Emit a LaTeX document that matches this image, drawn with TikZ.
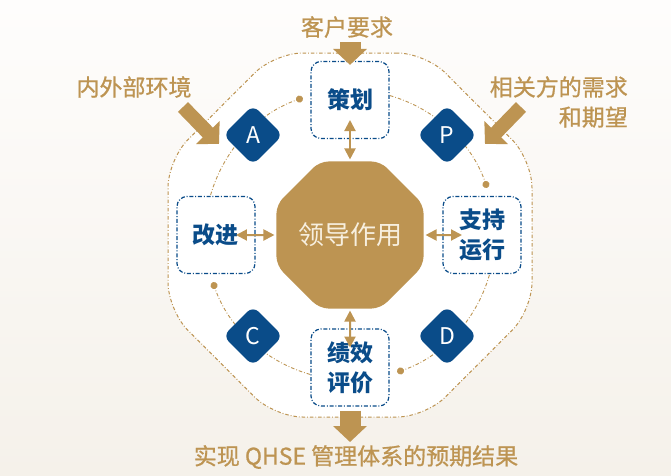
\documentclass[tikz,border=0pt]{standalone}
\usepackage{fontspec}
\setmainfont{Noto Sans CJK SC}
\newfontfamily\labelfont{Noto Sans CJK SC}[FakeBold=0.8]
\usetikzlibrary{shapes.geometric,arrows.meta}
\definecolor{gd}{HTML}{BD9452}
\definecolor{bl}{HTML}{0A4C89}
\definecolor{bgt}{HTML}{FEFDFC}
\definecolor{bgb}{HTML}{F5F1EA}
\definecolor{cr}{HTML}{F7EFDF}

\tikzset{
  lbl/.style={text=gd, font=\labelfont\fontsize{23pt}{30pt}\selectfont, inner sep=0pt},
  box/.style={draw=bl, fill=white, line width=1.2pt, dash pattern=on 4pt off 1.8pt on 1pt off 1.8pt,
    rounded corners=10pt, minimum width=78pt, minimum height=77pt, inner sep=0pt, align=center,
    text=bl, font=\fontsize{23pt}{30pt}\selectfont\bfseries},
  dia/.style={diamond, fill=bl, rounded corners=8pt, minimum width=60pt, minimum height=60pt,
    inner sep=0pt, text=white, font=\fontsize{23pt}{23pt}\selectfont},
  ring/.style={gd, line width=0.9pt, dash pattern=on 3.5pt off 2pt on 0.8pt off 2pt},
  dbl/.style={gd, line width=2pt, {Triangle[length=11pt,width=11pt]}-{Triangle[length=11pt,width=11pt]},
    shorten <=2pt, shorten >=20pt},
  bigarrow/.style={gd, line width=21pt, -{Triangle[length=16pt,width=33pt]}}
}

\begin{document}
\begin{tikzpicture}[x=1pt,y=1pt]
  \shade[top color=bgt, bottom color=bgb] (-350,-240) rectangle (321,235);
  \useasboundingbox (-350,-240) rectangle (321,235);

  \node[regular polygon, regular polygon sides=8, minimum size=394pt, inner sep=0pt, outer sep=0pt,
    draw=gd, fill=white, line width=1pt, dash pattern=on 3.5pt off 2pt on 0.8pt off 2pt,
    rounded corners=28pt] (frame) at (0,0) {};

  \draw[ring, -{Circle[length=7pt]}] (74:145pt) arc[start angle=74, end angle=19, radius=145pt];
  \draw[ring, -{Circle[length=7pt]}] (-16:145pt) arc[start angle=-16, end angle=-71, radius=145pt];
  \draw[ring, -{Circle[length=7pt]}] (-106:145pt) arc[start angle=-106, end angle=-161, radius=145pt];
  \draw[ring, -{Circle[length=7pt]}] (164:145pt) arc[start angle=164, end angle=109, radius=145pt];

  \node[regular polygon, regular polygon sides=8, minimum size=157pt, inner sep=0pt, outer sep=0pt,
    fill=gd, rounded corners=9pt, text=cr, font=\fontsize{26pt}{26pt}\selectfont] (lead) at (0,0) {领导作用};

  \node[box] (plan) at (0,135) {策划};
  \node[box] (support) at (132,0) {支持\\运行};
  \node[box] (check) at (0,-132.5) {绩效\\评价};
  \node[box] (improve) at (-134,0) {改进};

  \node[dia] (dA) at (-97,100) {A};
  \node[dia] (dP) at (97,100) {P};
  \node[dia] (dC) at (-97,-101) {C};
  \node[dia] (dD) at (97,-101) {D};

  \draw[dbl] (lead) -- (plan.center);
  \draw[dbl] (lead) -- (support.center);
  \draw[dbl] (lead) -- (check.center);
  \draw[dbl] (lead) -- (improve.center);

  \coordinate (custin) at (0,193);
  \coordinate (goalin) at (0,-207);
  \coordinate (envtail) at (-167,128);
  \coordinate (envtip) at (-131,91);
  \coordinate (staketail) at (171,128);
  \coordinate (staketip) at (135,91);
  \draw[bigarrow, shorten >=-4pt] (custin) -- (plan.north);
  \draw[bigarrow, shorten <=4pt] (check.south) -- (goalin);
  \draw[bigarrow, line width=14pt, -{Triangle[length=16pt,width=32pt]}] (envtail) -- (envtip);
  \draw[bigarrow, line width=14pt, -{Triangle[length=16pt,width=32pt]}] (staketail) -- (staketip);

  \node[lbl] (cust) at (-3,208) {客户要求};
  \node[lbl] (env) at (-216,148) {内外部环境};
  \node[lbl, anchor=east, align=right] (stake) at (278,133) {相关方的需求\\和期望};
  \node[lbl] (goal) at (6,-222) {实现 QHSE 管理体系的预期结果};
\end{tikzpicture}
\end{document}
